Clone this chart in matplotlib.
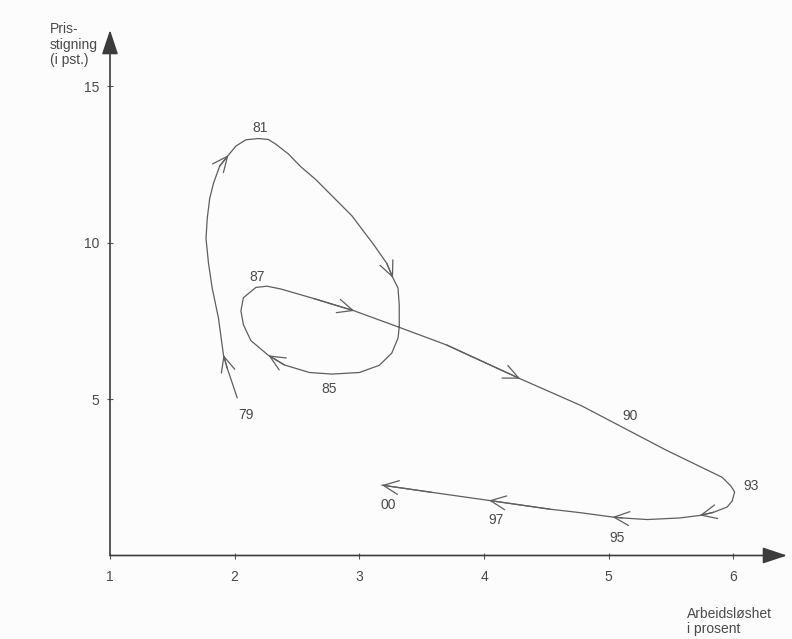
import matplotlib.pyplot as plt

plt.rcParams['font.family'] = ['Liberation Sans', 'DejaVu Sans']

# arbeidsledighet (x) og prisstigning (y), lest av langs kurven 1979 -> 2000
path_x = [2.02, 1.98, 1.94, 1.91, 1.87, 1.82, 1.79, 1.77, 1.78, 1.80,
          1.83, 1.88, 1.95, 2.01, 2.09, 2.19, 2.27, 2.33, 2.43, 2.53,
          2.65, 2.76, 2.94, 3.12, 3.22, 3.27, 3.31, 3.32, 3.32, 3.31,
          3.26, 3.16, 3.00, 2.78, 2.60, 2.40, 2.27, 2.13, 2.07, 2.05,
          2.07, 2.17, 2.26, 2.37, 2.63, 2.96, 3.31, 3.70, 4.29, 4.78,
          5.46, 5.91, 5.98, 6.01, 5.99, 5.95, 5.84, 5.73, 5.57, 5.31,
          5.11, 5.03, 4.77, 4.53, 4.04, 3.58, 3.18]
path_y = [5.04, 5.52, 5.99, 6.41, 7.59, 8.54, 9.34, 10.14, 10.78, 11.42,
          11.90, 12.45, 12.80, 13.09, 13.29, 13.33, 13.30, 13.15, 12.84, 12.43,
          12.02, 11.58, 10.86, 9.91, 9.34, 8.87, 8.55, 8.01, 7.31, 6.95,
          6.47, 6.08, 5.85, 5.80, 5.85, 6.09, 6.40, 6.87, 7.38, 7.82,
          8.24, 8.57, 8.61, 8.52, 8.22, 7.82, 7.31, 6.73, 5.65, 4.79,
          3.37, 2.50, 2.22, 2.03, 1.74, 1.55, 1.38, 1.28, 1.20, 1.15,
          1.20, 1.23, 1.37, 1.48, 1.76, 2.02, 2.25]
arrow_idx = [3, 12, 25, 36, 45, 48, 57, 61, 64, 66]

years = ['79', '81', '85', '87', '90', '93', '95', '97', '00']
year_x = [2.09, 2.20, 2.76, 2.18, 5.17, 6.14, 5.07, 4.10, 3.23]
year_y = [4.50, 13.68, 5.32, 8.89, 4.46, 2.23, 0.56, 1.13, 1.61]

x_ticks = [1, 2, 3, 4, 5, 6]
y_ticks = [5, 10, 15]

line_col = '#5e5e5e'
text_col = '#4a4a4a'

fig = plt.figure(figsize=(7.92, 6.39), dpi=100)
fig.patch.set_facecolor('#fcfcfc')
ax = fig.add_axes([110 / 792, 83.5 / 639, 677 / 792, 525.5 / 639])
ax.set_facecolor('none')
ax.set_xlim(1, 6.43)
ax.set_ylim(0, 16.8)

for s in ax.spines.values():
    s.set_visible(False)

# akser med pilspiss
axis_arrow = dict(arrowstyle='-|>,head_length=0.75,head_width=0.25',
                  mutation_scale=20, lw=1.2, color='#3c3c3c',
                  shrinkA=0, shrinkB=0)
ax.annotate('', xy=(1, 0), xytext=(0, 0), xycoords='axes fraction',
            arrowprops=axis_arrow)
ax.annotate('', xy=(0, 1), xytext=(0, 0), xycoords='axes fraction',
            arrowprops=axis_arrow)

ax.set_xticks(x_ticks)
ax.set_yticks(y_ticks)
ax.tick_params(direction='inout', length=5, width=0.8, color='#555555',
               labelcolor=text_col, labelsize=10)
ax.tick_params(axis='x', pad=8)
ax.tick_params(axis='y', pad=5)

# kurven
ax.plot(path_x, path_y, color=line_col, lw=0.9,
        solid_joinstyle='round', solid_capstyle='round')

for i in arrow_idx:
    ax.annotate('', xy=(path_x[i], path_y[i]),
                xytext=(path_x[i - 1], path_y[i - 1]),
                arrowprops=dict(arrowstyle='->,head_length=0.55,head_width=0.25',
                                mutation_scale=20, lw=0.9, color=line_col,
                                shrinkA=0, shrinkB=0))

for yr, x, y in zip(years, year_x, year_y):
    ax.text(x, y, yr, ha='center', va='center', fontsize=10, color=text_col)

fig.text(50 / 792, 1 - 22 / 639, 'Pris-\nstigning\n(i pst.)', ha='left',
         va='top', fontsize=10, color=text_col, linespacing=1.15)
fig.text(687 / 792, 1 - 607 / 639, 'Arbeidsløshet\ni prosent', ha='left',
         va='top', fontsize=10, color=text_col, linespacing=1.1)

fig.savefig('out.png', dpi=100, facecolor=fig.get_facecolor())
